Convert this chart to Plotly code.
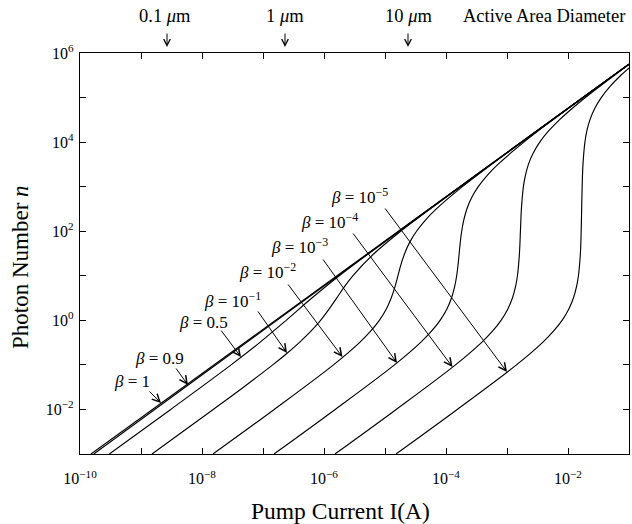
import plotly.graph_objects as go

# ---- data: log10(I [A]) and log10(n) ----
logI_b1 = [-9.820, -1.000]
logn_b1 = [-3.00, 5.75]

logI_b09 = [-9.774, -6.773, -1.000]
logn_b09 = [-3.00, 0.00, 5.75]

logI_b05 = [-9.519, -8.513, -7.523, -7.055, -6.620, -6.199, -5.750, -4.776, -3.772, -1.000]
logn_b05 = [-3.00, -2.00, -1.00, -0.50, 0.00, 0.50, 1.00, 2.00, 3.00, 5.75]

logI_b1e1 = [-8.820, -7.816, -7.320, -6.841, -6.615, -6.406, -6.218, -6.056, -5.917, -5.792,
             -5.667, -5.528, -5.178, -4.743, -3.768, -2.764, -1.000]
logn_b1e1 = [-3.00, -2.00, -1.50, -1.00, -0.75, -0.50, -0.25, 0.00, 0.25, 0.50,
             0.75, 1.00, 1.50, 2.00, 3.00, 4.00, 5.75]

logI_b1e2 = [-7.820, -6.816, -5.845, -5.418, -5.239, -5.093, -4.980, -4.898, -4.837, -4.788,
             -4.739, -4.678, -4.596, -4.483, -4.337, -4.158, -3.731, -3.255, -2.760, -1.756, -1.000]
logn_b1e2 = [-3.00, -2.00, -1.00, -0.50, -0.25, 0.00, 0.25, 0.50, 0.75, 1.00,
             1.25, 1.50, 1.75, 2.00, 2.25, 2.50, 3.00, 3.50, 4.00, 5.00, 5.75]

logI_b1e3 = [-6.820, -5.816, -4.845, -4.419, -4.242, -4.097, -3.987, -3.910, -3.859, -3.825,
             -3.802, -3.784, -3.766, -3.743, -3.709, -3.658, -3.581, -3.471, -3.327, -3.149,
             -2.723, -2.247, -1.752, -1.000]
logn_b1e3 = [-3.00, -2.00, -1.00, -0.50, -0.25, 0.00, 0.25, 0.50, 0.75, 1.00,
             1.25, 1.50, 1.75, 2.00, 2.25, 2.50, 2.75, 3.00, 3.25, 3.50,
             4.00, 4.50, 5.00, 5.75]

logI_b1e4 = [-5.820, -4.816, -3.845, -3.419, -3.242, -3.097, -2.988, -2.911, -2.861, -2.829,
             -2.796, -2.780, -2.764, -2.731, -2.699, -2.649, -2.572, -2.463, -2.318, -2.141,
             -1.937, -1.715, -1.239, -0.992]
logn_b1e4 = [-3.00, -2.00, -1.00, -0.50, -0.25, 0.00, 0.25, 0.50, 0.75, 1.00,
             1.50, 2.00, 2.50, 3.00, 3.25, 3.50, 3.75, 4.00, 4.25, 4.50,
             4.75, 5.00, 5.50, 5.75]

logI_b1e5 = [-4.820, -3.816, -2.845, -2.419, -2.242, -2.097, -1.988, -1.911, -1.861, -1.829,
             -1.797, -1.784, -1.776, -1.768, -1.7545, -1.7226, -1.691, -1.641, -1.564, -1.455,
             -1.310, -1.133, -0.929]
logn_b1e5 = [-3.00, -2.00, -1.00, -0.50, -0.25, 0.00, 0.25, 0.50, 0.75, 1.00,
             1.50, 2.00, 2.50, 3.00, 3.50, 4.00, 4.25, 4.50, 4.75, 5.00,
             5.25, 5.50, 5.75]

curves = [
    (logI_b1, logn_b1), (logI_b09, logn_b09), (logI_b05, logn_b05),
    (logI_b1e1, logn_b1e1), (logI_b1e2, logn_b1e2), (logI_b1e3, logn_b1e3),
    (logI_b1e4, logn_b1e4), (logI_b1e5, logn_b1e5),
]

beta_labels = ["<i>β</i> = 1", "<i>β</i> = 0.9", "<i>β</i> = 0.5",
               "<i>β</i> = 10<sup>−1</sup>", "<i>β</i> = 10<sup>−2</sup>",
               "<i>β</i> = 10<sup>−3</sup>", "<i>β</i> = 10<sup>−4</sup>",
               "<i>β</i> = 10<sup>−5</sup>"]

diam_labels = ["0.1 <i>μ</i>m", "1 <i>μ</i>m", "10 <i>μ</i>m"]

x_tick_exp = list(range(-10, 0))
y_tick_exp = list(range(-3, 7))
x_tick_text = ["10<sup>−%d</sup>" % (-e) if e % 2 == 0 else "" for e in x_tick_exp]
y_tick_text = []
for e in y_tick_exp:
    if e % 2 != 0:
        y_tick_text.append("")
    elif e < 0:
        y_tick_text.append("10<sup>−%d</sup>" % (-e))
    else:
        y_tick_text.append("10<sup>%d</sup>" % e)

# ---- layout geometry (pixels) ----
W, H = 632, 524
PL, PR, PT, PB = 80, 629, 53, 454
XMIN, XMAX, YMIN, YMAX = -10.0, -1.0, -3.0, 6.0


def px2data(x, y):
    return (XMIN + (x - PL) / (PR - PL) * (XMAX - XMIN),
            YMAX - (y - PT) / (PB - PT) * (YMAX - YMIN))


def px2paper(x, y):
    return (x - PL) / (PR - PL), (PB - y) / (PB - PT)


FONT = "Liberation Serif"

fig = go.Figure()
for lI, ln in curves:
    fig.add_trace(go.Scatter(
        x=[10 ** v for v in lI], y=[10 ** v for v in ln],
        mode="lines", line=dict(color="black", width=1.15, shape="spline", smoothing=1.0),
        hoverinfo="skip", showlegend=False))

annotations = []

# beta labels (centre pixel positions)
label_pos = [(132, 381), (159, 358), (203, 322), (232, 300), (267, 271),
             (299, 246), (329, 221), (359, 196)]
for txt, (x, y) in zip(beta_labels, label_pos):
    dx, dy = px2data(x, y)
    annotations.append(dict(x=dx, y=dy, xref="x", yref="y", text=txt, showarrow=False,
                            xanchor="center", yanchor="middle",
                            font=dict(family=FONT, size=17, color="black")))

# arrows: (tail pixel, head pixel)
arrow_px = [((148, 390), (161, 403)), ((175, 367), (188, 385)), ((220, 329), (241, 357)),
            ((257, 310), (287, 353)), ((287, 283), (342.5, 357)), ((322, 258), (397, 363)),
            ((352, 232), (452.5, 367)), ((384, 207), (507, 372))]
for (tx, ty), (hx, hy) in arrow_px:
    ax_, ay_ = px2data(tx, ty)
    hx_, hy_ = px2data(hx, hy)
    annotations.append(dict(x=hx_, y=hy_, ax=ax_, ay=ay_, xref="x", yref="y",
                            axref="x", ayref="y", text="", showarrow=True,
                            arrowhead=5, arrowsize=1.5, arrowwidth=1.0,
                            arrowcolor="black", standoff=0, startstandoff=0))

# top: active area diameter markers
diam_px = [(165, 167), (285, 285), (408, 408)]
for txt, (tx, ax_x) in zip(diam_labels, diam_px):
    px, py = px2paper(tx, 16)
    annotations.append(dict(x=px, y=py, xref="paper", yref="paper", text=txt,
                            showarrow=False, xanchor="center", yanchor="middle",
                            font=dict(family=FONT, size=18.5, color="black")))
    hx, hy = px2paper(ax_x, 47)
    annotations.append(dict(x=hx, y=hy, xref="paper", yref="paper", text="",
                            showarrow=True, axref="pixel", ayref="pixel", ax=0, ay=-15,
                            arrowhead=5, arrowsize=1.3, arrowwidth=1.0, arrowcolor="black",
                            standoff=0))
px, py = px2paper(544, 16)
annotations.append(dict(x=px, y=py, xref="paper", yref="paper", text="Active Area Diameter",
                        showarrow=False, xanchor="center", yanchor="middle",
                        font=dict(family=FONT, size=18.5, color="black")))

# axis titles
px, py = px2paper(340, 511)
annotations.append(dict(x=px, y=py, xref="paper", yref="paper", text="Pump Current I(A)",
                        showarrow=False, xanchor="center", yanchor="middle",
                        font=dict(family=FONT, size=23.5, color="black")))
px, py = px2paper(20, 267)
annotations.append(dict(x=px, y=py, xref="paper", yref="paper", text="Photon Number <i>n</i>",
                        showarrow=False, xanchor="center", yanchor="middle", textangle=-90,
                        font=dict(family=FONT, size=23, color="black")))

axis_common = dict(type="log", showgrid=False, zeroline=False, showline=True,
                   linecolor="black", linewidth=1.3, mirror="ticks", ticks="inside",
                   ticklen=6, tickwidth=1, tickcolor="black",
                   tickfont=dict(family=FONT, size=16, color="black"))

fig.update_layout(
    width=W, height=H,
    margin=dict(l=PL, r=W - PR, t=PT, b=H - PB, pad=0),
    paper_bgcolor="white", plot_bgcolor="white",
    font=dict(family=FONT, size=15, color="black"),
    xaxis=dict(range=[XMIN, XMAX], tickvals=[10 ** e for e in x_tick_exp],
               ticktext=x_tick_text, ticklabelstandoff=10, **axis_common),
    yaxis=dict(range=[YMIN, YMAX], tickvals=[10 ** e for e in y_tick_exp],
               ticktext=y_tick_text, ticklabelstandoff=2, **axis_common),
    annotations=annotations,
    showlegend=False,
)

fig.write_html("out.html", config={"displayModeBar": False},
               post_script="document.body.style.margin='0px';document.body.style.padding='0px';")
